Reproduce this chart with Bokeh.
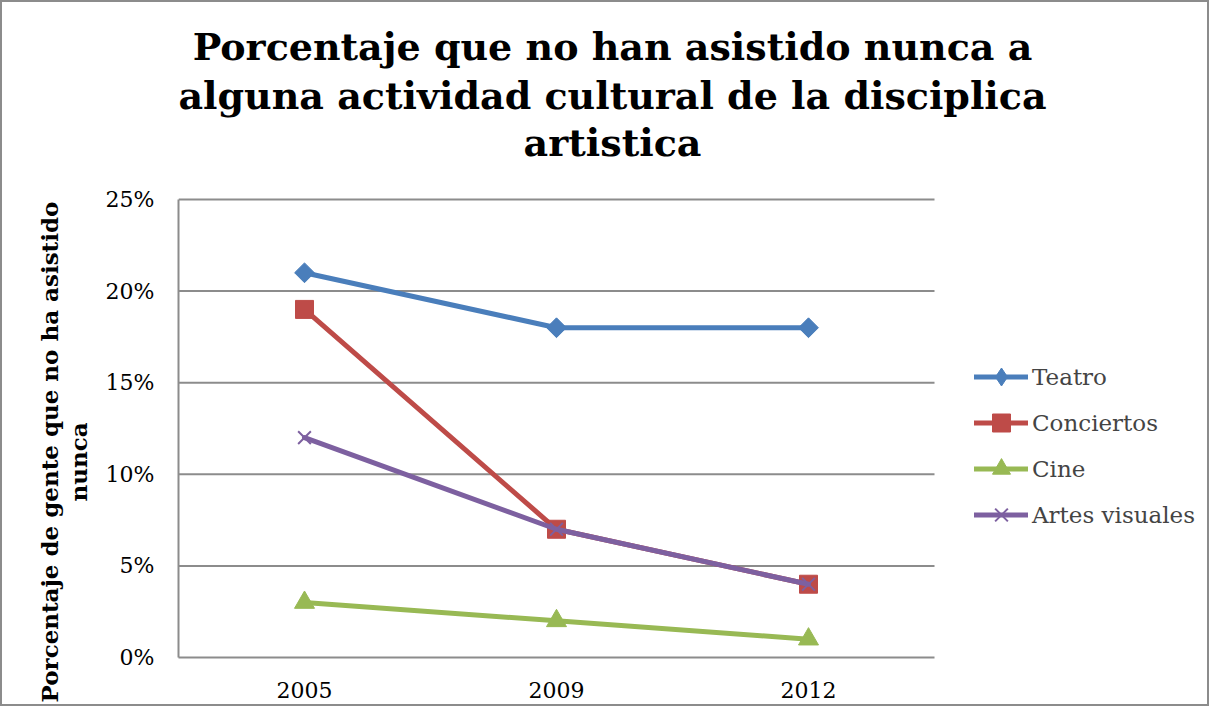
import math
from bokeh.plotting import figure
from bokeh.models import Range1d, NumeralTickFormatter, Legend, LegendItem, Label, FixedTicker, Title
from bokeh.embed import file_html
from bokeh.resources import INLINE

years = ["2005", "2009", "2012"]
teatro = [0.21, 0.18, 0.18]
conciertos = [0.19, 0.07, 0.04]
cine = [0.03, 0.02, 0.01]
artes = [0.12, 0.07, 0.04]
series_names = ["Teatro", "Conciertos", "Cine", "Artes visuales"]
title_lines = ["Porcentaje que no han asistido nunca a",
               "alguna actividad cultural de la disciplica",
               "artistica"]
ylabel_lines = ["Porcentaje de gente que no ha asistido", "nunca"]
yticks = [0, 0.05, 0.10, 0.15, 0.20, 0.25]

FONT = "DejaVu Serif"
GRID = "#8c8c8c"

# layout (pixels)
W, H = 1209, 706
LEFT, BOTTOM = 176, 51
PLOT_W, PLOT_H = 756, 458          # size of the gridded plot area
FRAME_W, FRAME_H = W - LEFT, H - BOTTOM
ncat = len(years)
xs = [i + 0.5 for i in range(ncat)]
x_end = ncat * FRAME_W / PLOT_W
y_end = yticks[-1] * FRAME_H / PLOT_H

p = figure(width=W, height=H, x_range=Range1d(0, x_end), y_range=Range1d(0, y_end),
           output_backend="svg", toolbar_location=None,
           min_border_left=LEFT, min_border_top=0, min_border_bottom=BOTTOM, min_border_right=0)
p.styles = {"border": "2px solid #8c8c8c"}
p.outline_line_color = None
p.background_fill_color = "white"
p.border_fill_color = "white"
p.xgrid.grid_line_color = None
p.ygrid.grid_line_color = None

# horizontal gridlines limited to the plot area
p.segment(x0=[0] * (len(yticks) - 1), y0=yticks[1:], x1=[ncat] * (len(yticks) - 1), y1=yticks[1:],
          line_color=GRID, line_width=2)

p.yaxis.ticker = FixedTicker(ticks=yticks)
p.yaxis.formatter = NumeralTickFormatter(format="0%")
p.yaxis.bounds = (0, yticks[-1])
p.xaxis.ticker = FixedTicker(ticks=xs)
p.xaxis.major_label_overrides = {x: y for x, y in zip(xs, years)}
p.xaxis.bounds = (0, ncat)

for ax in (p.xaxis, p.yaxis):
    ax.axis_line_color = GRID
    ax.axis_line_width = 2
    ax.major_tick_line_color = None
    ax.minor_tick_line_color = None
    ax.major_label_text_font = FONT
    ax.major_label_text_font_size = "22px"
    ax.major_label_text_color = "black"
p.xaxis.major_label_standoff = 18
p.yaxis.major_label_standoff = 18

# y-axis title: two lines, as titles in the left panel (second line nearest the axis)
for txt, off, so in ((ylabel_lines[1], 156, 21), (ylabel_lines[0], -45, -21)):
    p.add_layout(Title(text=txt, align="left", offset=off, standoff=so,
                       text_font=FONT, text_font_size="23px", text_font_style="bold",
                       text_color="black"), "left")

colors = ["#4A7EBB", "#BE4B48", "#98B954", "#7D60A0"]
data = [teatro, conciertos, cine, artes]
items = []
for name, vals, col in zip(series_names, data, colors):
    ln = p.line(xs, vals, line_color=col, line_width=5, line_cap="round", line_join="round")
    if name == "Teatro":
        mk = p.scatter(xs, vals, marker="square", angle=math.pi / 4, size=14,
                       fill_color=col, line_color=col)
        # legend-only diamond (the legend does not rotate markers); its point is not plotted
        leg_mk = p.scatter(x=[xs[0]], y=[float("nan")], marker="diamond", size=20,
                           fill_color=col, line_color=col)
        items.append(LegendItem(label=name, renderers=[ln, leg_mk]))
        continue
    elif name == "Conciertos":
        mk = p.scatter(xs, vals, marker="square", size=18, fill_color=col, line_color=col)
    elif name == "Cine":
        mk = p.scatter(xs, vals, marker="triangle", size=20, fill_color=col, line_color=col)
    else:
        mk = p.scatter(xs, vals, marker="x", size=18, line_color=col, line_width=2)
    items.append(LegendItem(label=name, renderers=[ln, mk]))

legend = Legend(items=items, location=(796, 120), padding=0, margin=0, spacing=1,
                glyph_width=54, glyph_height=45, label_height=45, label_standoff=4,
                label_text_font=FONT, label_text_font_size="23px",
                background_fill_alpha=0, border_line_color=None)
p.add_layout(legend, "center")

title_y = [611, 562, 515]
for txt, yy in zip(title_lines, title_y):
    p.add_layout(Label(x=434, y=yy, x_units="screen", y_units="screen", text=txt,
                       text_align="center", text_baseline="alphabetic",
                       text_font=FONT, text_font_size="38px", text_font_style="bold",
                       text_color="black"))

open("out.html", "w").write(file_html(p, INLINE))
